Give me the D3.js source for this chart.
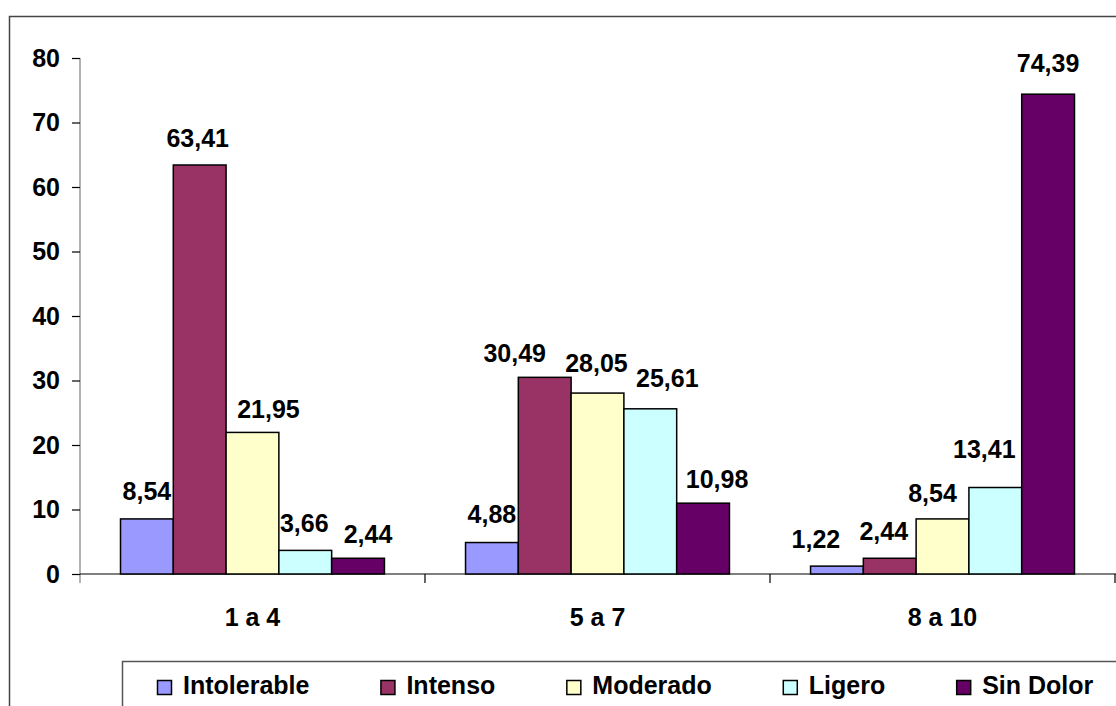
<!DOCTYPE html>
<html>
<head>
<meta charset="utf-8">
<script src="https://cdn.jsdelivr.net/npm/d3@7"></script>
<style>
  body { margin: 0; background: #fff; }
  svg { display: block; font-family: Arial, "Liberation Sans", sans-serif; }
</style>
</head>
<body>
<div id="chart"></div>
<script>
// datos
const categories = ['1 a 4', '5 a 7', '8 a 10']
const series = ['Intolerable', 'Intenso', 'Moderado', 'Ligero', 'Sin Dolor']
const colors = ['#9999FF', '#993366', '#FFFFCC', '#CCFFFF', '#660066']
const intolerable = [8.54, 4.88, 1.22]
const intenso = [63.41, 30.49, 2.44]
const moderado = [21.95, 28.05, 8.54]
const ligero = [3.66, 25.61, 13.41]
const sinDolor = [2.44, 10.98, 74.39]
const yTicks = [0, 10, 20, 30, 40, 50, 60, 70, 80]

const values = [intolerable, intenso, moderado, ligero, sinDolor]

// etiquetas movidas a mano (dx, dy en px) como en el original
const labelNudge = [
    [[0, -19], [0, -20], [-21, -18]],
    [[-2, -18], [-30, -15], [-6, -18]],
    [[16, -14], [-1, -21], [-10, -17]],
    [[-1, -18], [17, -22], [-11, -30]],
    [[10, -15], [14, -15], [0, -22]]
]

const width = 1116, height = 706
const margin = { top: 58, right: 1, bottom: 132, left: 80 }

const svg = d3.select('#chart').append('svg')
    .attr('width', width)
    .attr('height', height)

// marco exterior
svg.append('rect')
    .attr('x', 9.5).attr('y', 16.5)
    .attr('width', width + 20).attr('height', height + 20)
    .attr('fill', 'none')
    .attr('stroke', '#444')
    .attr('stroke-width', 1.5)

const x0 = d3.scaleBand()
    .domain(categories)
    .range([margin.left, 1115])
    .paddingInner(0.235)
    .paddingOuter(0.1174)

const x1 = d3.scaleBand()
    .domain(series)
    .range([0, x0.bandwidth()])
    .padding(0)

const y = d3.scaleLinear()
    .domain([0, 80])
    .range([574, margin.top])

const g = svg.append('g')

// eje y
const yAxis = g.append('g')
    .attr('transform', 'translate(' + margin.left + ',0)')
    .call(d3.axisLeft(y).tickValues(yTicks).tickSize(8).tickPadding(12))
yAxis.select('.domain').attr('stroke', '#808080').attr('stroke-width', 1.2)
    .attr('d', 'M0,' + y(80) + 'V' + (y(0) + 9))
yAxis.selectAll('.tick line').attr('stroke', '#000').attr('stroke-width', 1.2)
yAxis.selectAll('.tick text')
    .attr('font-size', 25)
    .attr('font-weight', 'bold')
    .attr('font-family', 'Arial, "Liberation Sans", sans-serif')
    .attr('fill', '#000')

// eje x
const xAxis = g.append('g')
    .attr('transform', 'translate(0,' + y(0) + ')')
xAxis.append('line')
    .attr('x1', margin.left).attr('x2', width + 5)
    .attr('stroke', '#000').attr('stroke-width', 1.2)
const bounds = categories.map(c => x0(c) - x0.step() * x0.paddingInner() / 2)
bounds.push(1115)
xAxis.selectAll('.ctick')
    .data(bounds.slice(1))
    .enter()
    .append('line')
    .attr('x1', d => d).attr('x2', d => d)
    .attr('y1', 0).attr('y2', 9)
    .attr('stroke', '#000').attr('stroke-width', 1.2)
xAxis.selectAll('.clabel')
    .data(categories)
    .enter()
    .append('text')
    .attr('x', d => x0(d) + x0.bandwidth() / 2)
    .attr('y', 52)
    .attr('text-anchor', 'middle')
    .attr('font-size', 25)
    .attr('font-weight', 'bold')
    .text(d => d)

// barras
const groups = g.selectAll('.grp')
    .data(categories)
    .enter()
    .append('g')
    .attr('class', 'grp')
    .attr('transform', d => 'translate(' + x0(d) + ',0)')

const cells = (c, ci) => series.map((s, si) => ({ s: s, si: si, ci: ci, v: values[si][ci] }))

groups.selectAll('rect')
    .data(cells)
    .enter()
    .append('rect')
    .attr('x', d => x1(d.s))
    .attr('y', d => y(d.v))
    .attr('width', x1.bandwidth())
    .attr('height', d => y(0) - y(d.v))
    .attr('fill', d => colors[d.si])
    .attr('stroke', '#000')
    .attr('stroke-width', 1.5)

groups.selectAll('text')
    .data(cells)
    .enter()
    .append('text')
    .attr('x', d => x1(d.s) + x1.bandwidth() / 2 + labelNudge[d.si][d.ci][0])
    .attr('y', d => y(d.v) + labelNudge[d.si][d.ci][1])
    .attr('text-anchor', 'middle')
    .attr('font-size', 25)
    .attr('font-weight', 'bold')
    .text(d => d.v.toFixed(2).replace('.', ','))

// leyenda
const legend = svg.append('g')
svg.append('rect')
    .attr('x', 122.5).attr('y', 661.5)
    .attr('width', 1100).attr('height', 100)
    .attr('fill', 'none')
    .attr('stroke', '#555')
    .attr('stroke-width', 1.5)

let lx = 157
series.forEach((s, i) => {
    const item = legend.append('g')
    item.append('rect')
        .attr('x', lx + 0.5).attr('y', 680.5)
        .attr('width', 14).attr('height', 14)
        .attr('fill', colors[i])
        .attr('stroke', '#000')
        .attr('stroke-width', 1.5)
    const t = item.append('text')
        .attr('x', lx + 26)
        .attr('y', 694)
        .attr('font-size', 25)
        .attr('font-weight', 'bold')
        .text(s)
    lx += 26 + t.node().getComputedTextLength() + 71
})
</script>
</body>
</html>
